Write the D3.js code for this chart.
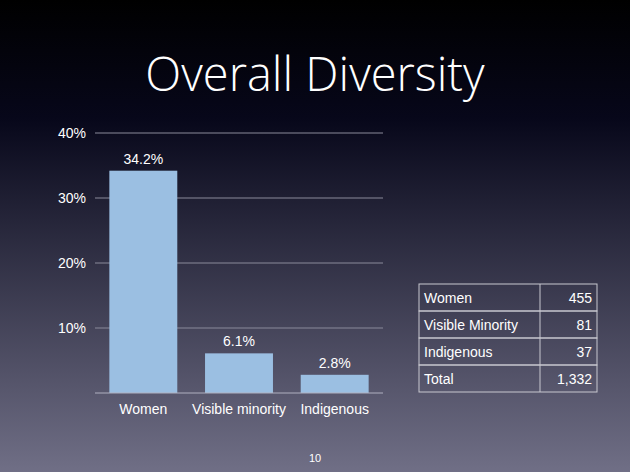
<!DOCTYPE html>
<html><head><meta charset="utf-8">
<script src="https://cdn.jsdelivr.net/npm/d3@7"></script>
<style>body{margin:0;overflow:hidden}</style>
</head><body>
<svg id="c" width="630" height="472"></svg>
<script>
var categories = ["Women", "Visible minority", "Indigenous"];
var values = [34.2, 6.1, 2.8];
var ticks = [10, 20, 30, 40];
var tableLabels = ["Women", "Visible Minority", "Indigenous", "Total"];
var tableCounts = ["455", "81", "37", "1,332"];

var svg = d3.select("#c");
var font = "Helvetica, 'Liberation Sans', Arial, sans-serif";

var grad = svg.append("defs").append("linearGradient").attr("id", "bg")
  .attr("x1", 0).attr("y1", 0).attr("x2", 0).attr("y2", 1);
grad.append("stop").attr("offset", "0%").attr("stop-color", "#000000");
grad.append("stop").attr("offset", "25%").attr("stop-color", "#07071a");
grad.append("stop").attr("offset", "100%").attr("stop-color", "#706f86");
svg.append("rect").attr("width", 630).attr("height", 472).attr("fill", "url(#bg)");

svg.append("text").attr("x", 315).attr("y", 91).attr("text-anchor", "middle")
  .attr("fill", "#fff").attr("font-family", "'Open Sans', " + font).attr("font-weight", 300).attr("font-size", 47)
  .text("Overall Diversity");

var x = d3.scaleBand().domain(categories).range([95, 383]).paddingInner(0.29).paddingOuter(0.15);
var y = d3.scaleLinear().domain([0, 40]).range([393, 133]);

svg.selectAll(".grid").data(ticks).enter().append("line")
  .attr("x1", 95).attr("x2", 383).attr("y1", d => y(d)).attr("y2", d => y(d))
  .attr("stroke", "#8a8a9a").attr("stroke-width", 1);

svg.selectAll(".yt").data(ticks).enter().append("text")
  .attr("x", 86).attr("y", d => y(d) + 5).attr("text-anchor", "end")
  .attr("fill", "#fff").attr("font-family", font).attr("font-size", 14)
  .text(d => d + "%");

svg.selectAll(".bar").data(values).enter().append("rect")
  .attr("x", (d, i) => x(categories[i])).attr("width", x.bandwidth())
  .attr("y", d => y(d)).attr("height", d => y(0) - y(d))
  .attr("fill", "#9bbfe2");

svg.selectAll(".bl").data(values).enter().append("text")
  .attr("x", (d, i) => x(categories[i]) + x.bandwidth() / 2).attr("y", d => y(d) - 7)
  .attr("text-anchor", "middle").attr("fill", "#fff").attr("font-family", font).attr("font-size", 14)
  .text(d => d.toFixed(1) + "%");

svg.append("line").attr("x1", 95).attr("x2", 383).attr("y1", y(0)).attr("y2", y(0))
  .attr("stroke", "#b0b0c0");

svg.selectAll(".xl").data(categories).enter().append("text")
  .attr("x", d => x(d) + x.bandwidth() / 2).attr("y", 414)
  .attr("text-anchor", "middle").attr("fill", "#fff").attr("font-family", font).attr("font-size", 14)
  .text(d => d);

// table
var tx = 419, tw = 178, split = 540, ty = 284, rh = 27;
var rows = svg.selectAll(".row").data(tableLabels).enter().append("g");
rows.append("rect").attr("x", tx).attr("y", (d, i) => ty + i * rh).attr("width", tw).attr("height", rh)
  .attr("fill", "none").attr("stroke", "#c8c8d0");
rows.append("line").attr("x1", split).attr("x2", split)
  .attr("y1", (d, i) => ty + i * rh).attr("y2", (d, i) => ty + (i + 1) * rh).attr("stroke", "#c8c8d0");
rows.append("text").attr("x", tx + 5).attr("y", (d, i) => ty + i * rh + 19)
  .attr("fill", "#fff").attr("font-family", font).attr("font-size", 14).text(d => d);
rows.append("text").attr("x", tx + tw - 5).attr("y", (d, i) => ty + i * rh + 19).attr("text-anchor", "end")
  .attr("fill", "#fff").attr("font-family", font).attr("font-size", 14).text((d, i) => tableCounts[i]);

svg.append("text").attr("x", 315).attr("y", 462).attr("text-anchor", "middle")
  .attr("fill", "#fff").attr("font-family", font).attr("font-size", 11).text("10");
</script>
</body></html>
